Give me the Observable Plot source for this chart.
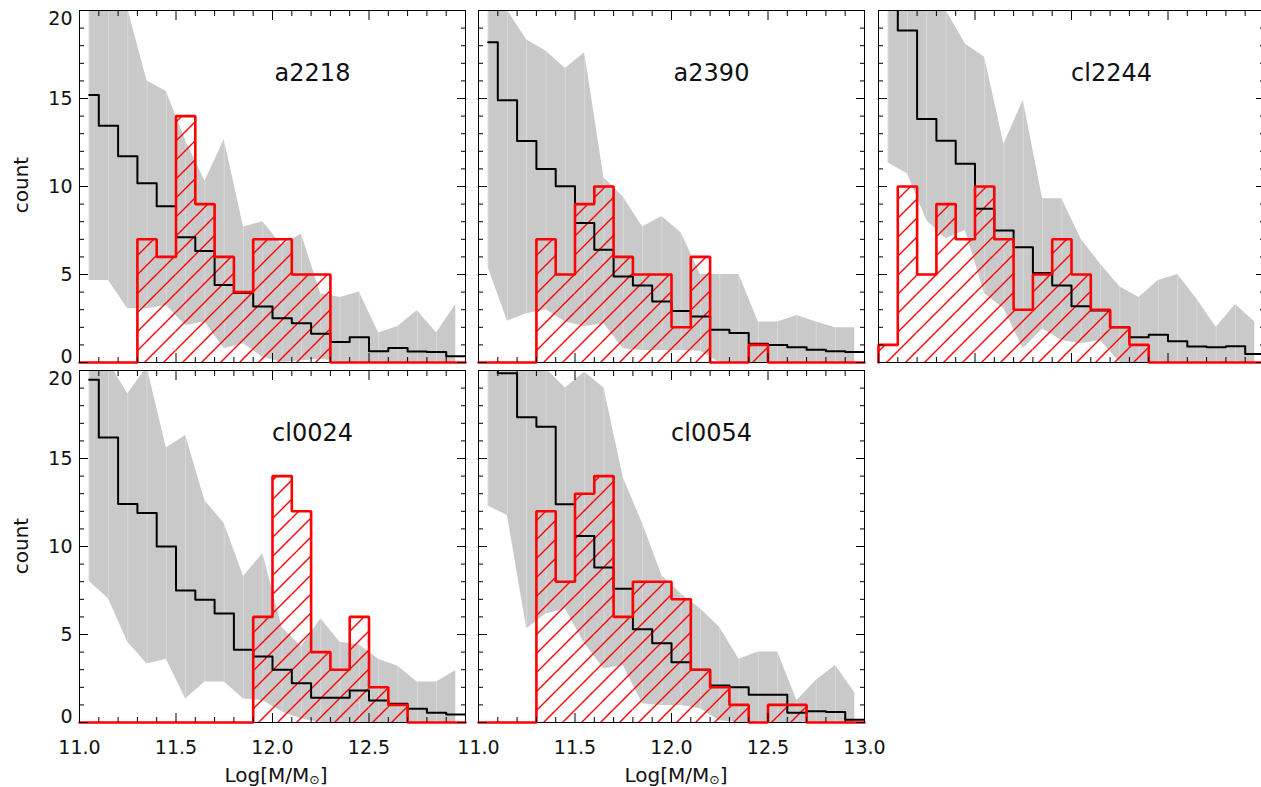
<!DOCTYPE html>
<html>
<head>
<meta charset="utf-8">
<script src="https://cdn.jsdelivr.net/npm/d3@7"></script>
<script src="https://cdn.jsdelivr.net/npm/@observablehq/plot@0.6"></script>
<style>
  html, body { margin: 0; padding: 0; background: #fff; }
  body { width: 1261px; height: 787px; overflow: hidden; position: relative; font-family: "DejaVu Sans", sans-serif; color: #111; }
  .lbl { position: absolute; font-size: 20px; white-space: nowrap; line-height: 1; }
  .ytitle { transform: translate(-50%, -50%) rotate(-90deg); }
  .xtitle { transform: translateX(-50%); }
  .sun { font-size: 0.62em; vertical-align: -0.18em; }
</style>
</head>
<body>
<svg width="0" height="0" style="position:absolute">
  <defs>
    <pattern id="hatch" patternUnits="userSpaceOnUse" width="19" height="19">
      <path d="M-2,2 L2,-2 M0,19 L19,0 M17,21 L21,17" stroke="#ff0000" stroke-width="1.4"/>
    </pattern>
  </defs>
</svg>
<div id="chart"></div>
<div class="lbl ytitle" style="left:21px; top:185px;">count</div>
<div class="lbl ytitle" style="left:21px; top:546px;">count</div>
<div class="lbl xtitle" style="left:276px; top:765px;">Log[M/M<span class="sun">⊙</span>]</div>
<div class="lbl xtitle" style="left:676px; top:765px;">Log[M/M<span class="sun">⊙</span>]</div>
<script>
// ---------- data ----------
const binLo = [11.0, 11.1, 11.2, 11.3, 11.4, 11.5, 11.6, 11.7, 11.8, 11.9,
               12.0, 12.1, 12.2, 12.3, 12.4, 12.5, 12.6, 12.7, 12.8, 12.9];
const binWidth = 0.1;

const clusters = ["a2218", "a2390", "cl2244", "cl0024", "cl0054"];

// mean counts (black step line)
const mean_a2218  = [15.2, 13.45, 11.72, 10.19, 8.88, 7.12, 6.33, 4.41, 3.95, 3.18, 2.52, 2.23, 1.63, 1.16, 1.44, 0.64, 0.83, 0.63, 0.59, 0.36];
const mean_a2390  = [18.2, 14.9, 12.58, 11.0, 10.02, 7.92, 6.4, 4.89, 4.38, 3.47, 2.92, 2.61, 1.86, 1.67, 1.06, 1.0, 0.87, 0.72, 0.64, 0.59];
const mean_cl2244 = [22, 18.86, 13.84, 12.6, 11.29, 8.73, 7.5, 6.55, 5.08, 4.38, 3.2, 2.95, 2.0, 1.44, 1.57, 1.21, 0.91, 0.87, 0.93, 0.49];
const mean_cl0024 = [19.47, 16.2, 12.42, 11.9, 10.0, 7.5, 6.97, 6.2, 4.13, 3.75, 3.0, 2.23, 1.4, 1.4, 1.82, 1.25, 1.06, 0.78, 0.55, 0.45];
const mean_cl0054 = [22, 19.85, 17.35, 16.8, 12.4, 10.6, 8.8, 7.6, 5.3, 4.5, 3.43, 3.0, 2.1, 2.0, 1.57, 1.57, 0.55, 0.64, 0.59, 0.15];

// upper envelope of the grey band
const hi_a2218  = [24, 22, 20.1, 16.0, 15.4, 12.6, 10.3, 12.65, 7.7, 8.0, 6.65, 7.3, 3.9, 3.7, 4.0, 1.67, 2.05, 2.95, 1.67, 3.3];
const hi_a2390  = [22, 20.0, 18.33, 17.7, 16.7, 17.6, 10.5, 9.4, 7.7, 8.3, 7.37, 5.0, 5.0, 5.0, 2.3, 2.3, 2.67, 2.3, 1.97, 1.97];
const hi_cl2244 = [24, 23, 22, 20.0, 18.1, 17.35, 12.4, 14.9, 9.3, 9.3, 7.0, 5.6, 4.3, 3.7, 4.66, 5.0, 3.6, 2.0, 3.3, 2.3];
const hi_cl0024 = [22, 20.5, 18.67, 20.2, 15.6, 16.3, 12.6, 11.3, 8.3, 9.6, 5.4, 4.3, 5.9, 4.56, 4.4, 3.6, 3.2, 2.3, 2.3, 2.95];
const hi_cl0054 = [24, 22, 21, 20.1, 19.0, 19.9, 19.0, 13.9, 11.3, 8.35, 7.3, 6.46, 5.4, 3.6, 4.0, 4.0, 1.25, 2.4, 3.24, 1.67];

// lower envelope of the grey band
const lo_a2218  = [4.66, 4.66, 3.05, 3.05, 3.24, 2.1, 2.3, 0.78, 1.06, 0.3, 0, 0.1, 0.2, 0, 0, 0, 0, 0, 0, 0];
const lo_a2390  = [5.4, 2.35, 2.77, 3.0, 2.3, 2.05, 2.2, 0.78, 0.68, 0.68, 0.68, 0.64, 0, 0, 0, 0, 0, 0, 0, 0];
const lo_cl2244 = [11.33, 10.72, 8.07, 7.03, 7.5, 3.9, 3.05, 0.78, 1.91, 1.25, 1.06, 1.25, 0, 0, 0, 0, 0, 0, 0, 0];
const lo_cl0024 = [8.03, 7.03, 4.56, 3.33, 3.6, 1.34, 2.3, 2.3, 1.34, 1.25, 0.59, 0.2, 0, 0, 0, 0, 0, 0, 0, 0];
const lo_cl0054 = [12.3, 11.76, 5.32, 6.17, 6.45, 4.47, 3.05, 3.24, 1.06, 0.97, 0.97, 0.78, 0.1, 0, 0, 0, 0, 0, 0, 0];

// observed counts (red hatched histogram)
const red_a2218  = [0, 0, 0, 7, 6, 14, 9, 6, 4, 7, 7, 5, 5, 0, 0, 0, 0, 0, 0, 0];
const red_a2390  = [0, 0, 0, 7, 5, 9, 10, 6, 5, 5, 2, 6, 0, 0, 1, 0, 0, 0, 0, 0];
const red_cl2244 = [1, 10, 5, 9, 7, 10, 7, 3, 5, 7, 5, 3, 2, 1, 0, 0, 0, 0, 0, 0];
const red_cl0024 = [0, 0, 0, 0, 0, 0, 0, 0, 0, 6, 14, 12, 4, 3, 6, 2, 1, 0, 0, 0];
const red_cl0054 = [0, 0, 0, 12, 8, 13, 14, 6, 8, 8, 7, 3, 2, 1, 0, 1, 1, 0, 0, 0];

// ticks
const xDomain = [11.0, 13.0];
const yDomain = [0, 20];
const yMajor = [0, 5, 10, 15, 20];
const yMinor = [1, 2, 3, 4, 6, 7, 8, 9, 11, 12, 13, 14, 16, 17, 18, 19];
const xMajor = [11.0, 11.5, 12.0, 12.5, 13.0];
const xMinor = [11.1, 11.2, 11.3, 11.4, 11.6, 11.7, 11.8, 11.9, 12.1, 12.2, 12.3, 12.4, 12.6, 12.7, 12.8, 12.9];
const yTickLabelsMid = [5, 10, 15];
const xTickLabels = [11.0, 11.5, 12.0, 12.5, 13.0];

// ---------- layout ----------
const frameW = 386, frameH = 352;
const M = {left: 45, right: 12, top: 12, bottom: 40};
const colLeft = [79.5, 478.5, 878.5];
const rowTop = [10.5, 370.5];

const panels = [
  {name: clusters[0], mean: mean_a2218,  hi: hi_a2218,  lo: lo_a2218,  red: red_a2218,  col: 0, row: 0, yLab: true,  xLab: null},
  {name: clusters[1], mean: mean_a2390,  hi: hi_a2390,  lo: lo_a2390,  red: red_a2390,  col: 1, row: 0, yLab: false, xLab: null},
  {name: clusters[2], mean: mean_cl2244, hi: hi_cl2244, lo: lo_cl2244, red: red_cl2244, col: 2, row: 0, yLab: false, xLab: null},
  {name: clusters[3], mean: mean_cl0024, hi: hi_cl0024, lo: lo_cl0024, red: red_cl0024, col: 0, row: 1, yLab: true,  xLab: xTickLabels.slice(0, 4)},
  {name: clusters[4], mean: mean_cl0054, hi: hi_cl0054, lo: lo_cl0054, red: red_cl0054, col: 1, row: 1, yLab: false, xLab: xTickLabels}
];

const blank = () => "";
const fmt1 = d3.format(".1f");

function tickAxes() {
  const majorLen = 9, minorLen = 5;
  const out = [];
  for (const [vals, len] of [[yMajor, majorLen], [yMinor, minorLen]]) {
    out.push(Plot.axisY(vals, {anchor: "left", tickSize: len, dx: len, tickFormat: blank, label: null, stroke: "#000"}));
    out.push(Plot.axisY(vals, {anchor: "right", tickSize: len, dx: -len, tickFormat: blank, label: null, stroke: "#000"}));
  }
  for (const [vals, len] of [[xMajor, majorLen], [xMinor, minorLen]]) {
    out.push(Plot.axisX(vals, {anchor: "top", tickSize: len, dy: len, tickFormat: blank, label: null, stroke: "#000"}));
    out.push(Plot.axisX(vals, {anchor: "bottom", tickSize: len, dy: -len, tickFormat: blank, label: null, stroke: "#000"}));
  }
  return out;
}

function panelPlot(p) {
  const n = binLo.length;
  const band = binLo.map((b, i) => ({c: b + binWidth / 2, lo: p.lo[i], hi: p.hi[i]}));
  const meanPts = binLo.map((b, i) => ({x: b + binWidth / 2, y: p.mean[i]}));
  meanPts.push({x: binLo[n - 1] + binWidth, y: p.mean[n - 1]});
  const redRects = binLo.map((b, i) => ({x1: b, x2: b + binWidth, v: p.red[i]}));
  const redPts = [{x: binLo[0], y: 0}, ...binLo.map((b, i) => ({x: b, y: p.red[i]})),
                  {x: binLo[n - 1] + binWidth, y: p.red[n - 1]}, {x: binLo[n - 1] + binWidth, y: 0}];

  const marks = [
    Plot.areaY(band, {x: "c", y1: "lo", y2: "hi", fill: "#c9c9c9", curve: "linear", clip: true}),
    Plot.ruleX(band, {x: "c", y1: "lo", y2: "hi", stroke: "#ffffff", strokeOpacity: 0.3, strokeWidth: 1, clip: true}),
    Plot.rect(redRects, {x1: "x1", x2: "x2", y1: 0, y2: "v", fill: "url(#hatch)", clip: true}),
    Plot.line(meanPts, {x: "x", y: "y", curve: "step", stroke: "#000", strokeWidth: 2, clip: true}),
    Plot.frame({stroke: "#000", strokeWidth: 1}),
    Plot.line(redPts, {x: "x", y: "y", curve: "step-after", stroke: "#ff0000", strokeWidth: 2.6, strokeLinejoin: "miter"}),
    ...tickAxes(),
    Plot.text([p.name], {text: d => d, frameAnchor: "top", dx: 40, dy: 53, lineAnchor: "top", fontSize: 24, fill: "#111"})
  ];
  if (p.yLab) {
    marks.push(Plot.axisY(yTickLabelsMid, {anchor: "left", tickSize: 0, tickPadding: 7, label: null, fill: "#111"}));
    marks.push(Plot.axisY([yDomain[1]], {anchor: "left", tickSize: 0, tickPadding: 7, dy: 8, label: null, fill: "#111"}));
    marks.push(Plot.axisY([yDomain[0]], {anchor: "left", tickSize: 0, tickPadding: 7, dy: -6, label: null, fill: "#111"}));
  }
  if (p.xLab) {
    marks.push(Plot.axisX(p.xLab, {anchor: "bottom", tickSize: 0, tickPadding: 18, tickFormat: fmt1, label: null, fill: "#111"}));
  }

  const svg = Plot.plot({
    width: frameW + M.left + M.right,
    height: frameH + M.top + M.bottom,
    marginLeft: M.left, marginRight: M.right, marginTop: M.top, marginBottom: M.bottom,
    x: {domain: xDomain, label: null},
    y: {domain: yDomain, label: null},
    style: {background: "transparent", overflow: "visible", fontFamily: "'DejaVu Sans', sans-serif", fontSize: "19px", color: "#000", maxWidth: "none"},
    marks
  });
  svg.style.position = "absolute";
  svg.style.left = (colLeft[p.col] - M.left - 0.5) + "px";
  svg.style.top = (rowTop[p.row] - M.top - 0.5) + "px";
  return svg;
}

const chart = document.getElementById("chart");
for (const p of panels) chart.appendChild(panelPlot(p));
</script>
</body>
</html>
